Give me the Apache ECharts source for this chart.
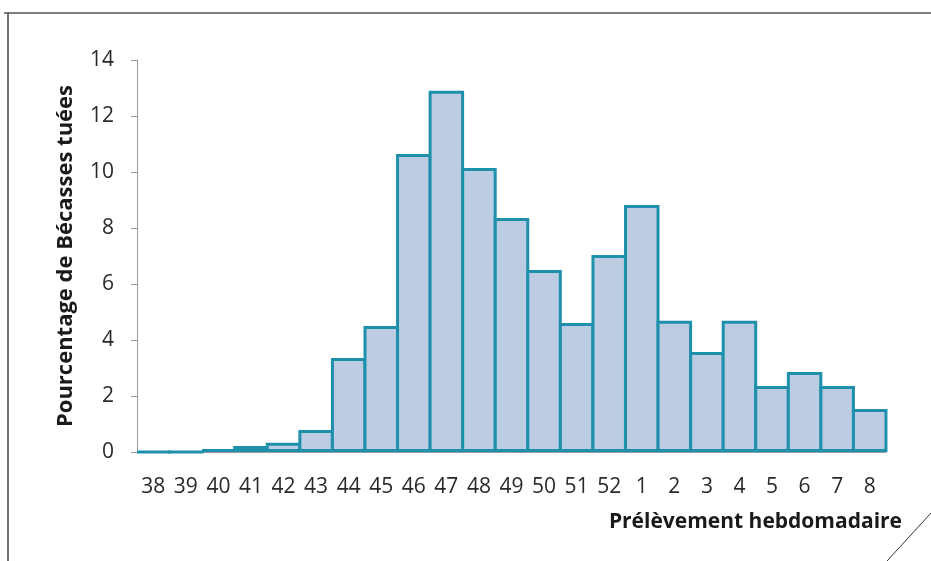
<!DOCTYPE html>
<html>
<head>
<meta charset="utf-8">
<script src="https://cdn.jsdelivr.net/npm/echarts@6/dist/echarts.min.js"></script>
<style>html,body{margin:0;padding:0;background:#fff}#c{width:931px;height:561px}</style>
</head>
<body>
<div id="c"></div>
<script>
var weeks = ['38','39','40','41','42','43','44','45','46','47','48','49','50','51','52','1','2','3','4','5','6','7','8'];
var percent = [0, 0, 0.1, 0.21, 0.33, 0.79, 3.36, 4.5, 10.64, 12.9, 10.14, 8.36, 6.5, 4.61, 7.04, 8.82, 4.69, 3.57, 4.69, 2.36, 2.86, 2.36, 1.54];
var yTicks = {min: 0, max: 14, interval: 2};

var chart = echarts.init(document.getElementById('c'), null, {renderer: 'canvas'});
chart.setOption({
  backgroundColor: '#ffffff',
  animation: false,
  grid: {left: 137, right: 45, top: 60, bottom: 109, containLabel: false},
  xAxis: {
    type: 'category',
    data: weeks,
    axisLine: {lineStyle: {color: '#9a9a9a', width: 1}},
    axisTick: {show: false},
    axisLabel: {color: '#2a2a2a', fontFamily: 'Open Sans', fontSize: 21, margin: 25, interval: 0},
    name: 'Prélèvement hebdomadaire',
    nameLocation: 'end',
    nameGap: 0,
    nameTextStyle: {fontFamily: 'Open Sans', fontWeight: 'bold', fontSize: 21, color: '#1a1a1a', align: 'right', verticalAlign: 'top', padding: [60, -16, 0, 0]}
  },
  yAxis: {
    type: 'value',
    min: yTicks.min, max: yTicks.max, interval: yTicks.interval,
    splitLine: {show: false},
    axisLine: {show: true, lineStyle: {color: '#9a9a9a', width: 1}},
    axisTick: {show: true, length: 6, lineStyle: {color: '#9a9a9a'}},
    axisLabel: {color: '#2a2a2a', fontFamily: 'Open Sans', fontSize: 21, margin: 23},
    name: 'Pourcentage de Bécasses tuées',
    nameLocation: 'middle',
    nameGap: 60,
    nameTextStyle: {fontFamily: 'Open Sans', fontWeight: 'bold', fontSize: 22, color: '#1a1a1a'}
  },
  series: [{
    type: 'bar',
    data: percent,
    barWidth: '109%',
    itemStyle: {color: '#bccde3', borderColor: '#1f90ac', borderWidth: 3}
  }],
  graphic: [
    {type: 'line', shape: {x1: 4, y1: 13, x2: 931, y2: 13}, style: {stroke: '#555', lineWidth: 1.5}},
    {type: 'line', shape: {x1: 8, y1: 13, x2: 8, y2: 561}, style: {stroke: '#444', lineWidth: 1.5}},
    {type: 'line', shape: {x1: 931, y1: 513, x2: 887, y2: 561}, style: {stroke: '#333', lineWidth: 1}}
  ]
});
</script>
</body>
</html>
